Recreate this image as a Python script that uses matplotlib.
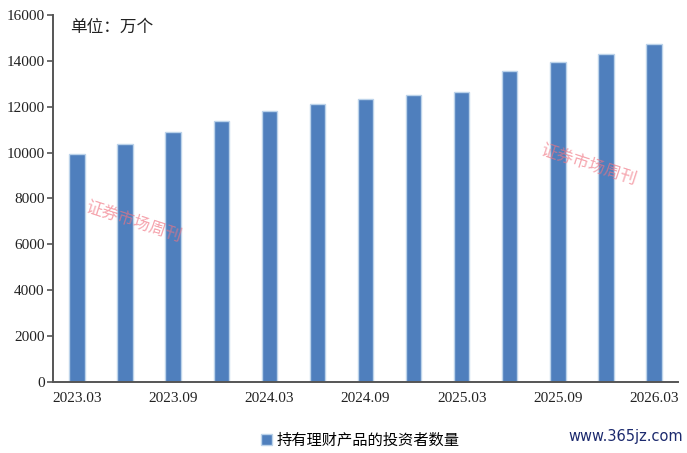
import matplotlib
matplotlib.use("Agg")
import matplotlib.pyplot as plt
import numpy as np

plt.rcParams['font.family'] = ['Liberation Serif', 'Noto Sans CJK SC', 'DejaVu Sans']

# quarterly data, unit: 万个
periods = ['2023.03', '2023.06', '2023.09', '2023.12',
           '2024.03', '2024.06', '2024.09', '2024.12',
           '2025.03', '2025.06', '2025.09', '2025.12', '2026.03']
investors = [9930, 10360, 10910, 11380, 11810, 12120, 12340, 12500,
             12620, 13570, 13940, 14310, 14730]
series_name = '持有理财产品的投资者数量'
y_ticks = [0, 2000, 4000, 6000, 8000, 10000, 12000, 14000, 16000]

fig = plt.figure(figsize=(6.87, 4.53), dpi=100)
ax = fig.add_axes([0.077, 0.157, 0.91, 0.81])

x = np.arange(len(periods))
ax.bar(x, investors, width=0.32, color='#4f7fbd', edgecolor='#bcd3ea',
       linewidth=1.0, label=series_name, zorder=2)

ax.set_xlim(-0.5, len(periods) - 0.5)
ax.set_ylim(0, 16000)
ax.set_yticks(y_ticks)
ax.set_yticklabels([str(v) for v in y_ticks])
ax.set_xticks(x[::2])
ax.set_xticklabels(periods[::2])

for s in ['top', 'right']:
    ax.spines[s].set_visible(False)
for s in ['left', 'bottom']:
    ax.spines[s].set_color('#555555')
    ax.spines[s].set_linewidth(1.4)

ax.tick_params(axis='y', direction='out', length=4, width=1.2, color='#555555',
               labelsize=11, labelcolor='#222222', pad=2)
ax.tick_params(axis='x', length=0, labelsize=11, labelcolor='#222222', pad=7)

ax.text(0.027, 0.965, '单位：万个', transform=ax.transAxes, fontsize=12,
        color='#222222', va='center', ha='left',
        family=['Noto Sans CJK SC', 'DejaVu Sans'])

# watermarks
for wx, wy in [(133, 222), (588, 165)]:
    fig.text(wx / 687, 1 - wy / 453, '证券市场周刊', fontsize=12,
             color='#f07482', alpha=0.65, rotation=-18, ha='center', va='center',
             family=['Noto Sans CJK SC', 'DejaVu Sans'])

fig.legend(loc='center', bbox_to_anchor=(360 / 687, 1 - 440 / 453), frameon=False,
           prop={'family': ['Noto Sans CJK SC', 'DejaVu Sans'], 'size': 11},
           handlelength=0.7, handleheight=0.7, handletextpad=0.3)

fig.text(683 / 687, 1 - 437 / 453, 'www.365jz.com', fontsize=10.5,
         color='#1c2a6e', ha='right', va='center', family='DejaVu Sans')

fig.savefig('out.png', dpi=100)
